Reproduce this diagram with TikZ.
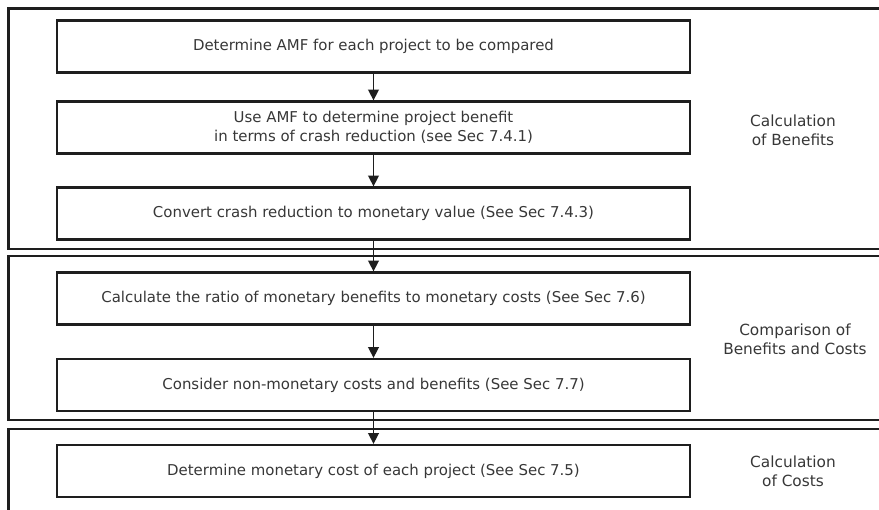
\documentclass[tikz,border=0pt]{standalone}
\usepackage{fontspec}
\setmainfont{DejaVu Sans}
\usetikzlibrary{arrows.meta}

\definecolor{ink}{RGB}{30,30,30}
\definecolor{txt}{RGB}{55,55,55}

\tikzset{
  stepbox/.style={draw=ink, line width=1.7pt, minimum width=474.75pt, minimum height=39pt,
    inner sep=0.75pt, align=center, font=\fontsize{11.2}{14}\selectfont, text=txt},
  stagelabel/.style={inner sep=0.75pt, align=center, font=\fontsize{11.5}{14}\selectfont, text=txt},
  frame/.style={draw=ink, line width=1.7pt},
  flow/.style={draw=ink, line width=1.1pt, -{Triangle[length=8pt,width=8pt]}}
}

\begin{document}
\begin{tikzpicture}[x=0.75pt,y=0.75pt,yscale=-1,xscale=1]
\useasboundingbox (0,0) rectangle (879,510);
\clip (0,0) rectangle (879,510);

%Stage frames
\draw [frame] (8.5,8.5) rectangle (960,249) ;
\draw [frame] (8.5,256) rectangle (960,420) ;
\draw [frame] (8.5,429) rectangle (960,560) ;

% Step boxes
\node [stepbox] (amf) at (373.5,46.5) {Determine AMF for each project to be compared};
\node [stepbox] (benefit) at (373.5,127.5) {Use AMF to determine project benefit\\in terms of crash reduction (see Sec 7.4.1)};
\node [stepbox] (money) at (373.5,213.5) {Convert crash reduction to monetary value (See Sec 7.4.3)};
\node [stepbox] (ratio) at (373.5,298.5) {Calculate the ratio of monetary benefits to monetary costs (See Sec 7.6)};
\node [stepbox] (nonmoney) at (373.5,385) {Consider non-monetary costs and benefits (See Sec 7.7)};
\node [stepbox] (cost) at (373.5,471) {Determine monetary cost of each project (See Sec 7.5)};

% Stage labels
\node [stagelabel] (lbenefits) at (793,130) {Calculation\\of Benefits};
\node [stagelabel] (lcompare) at (795,339) {Comparison of\\Benefits and Costs};
\node [stagelabel] (lcosts) at (793,471) {Calculation\\of Costs};

% Arrows
\draw [flow] (amf) -- (benefit);
\draw [flow] (benefit) -- (money);
\draw [flow] (money) -- (ratio);
\draw [flow] (ratio) -- (nonmoney);
\draw [flow] (nonmoney) -- (cost);

\end{tikzpicture}
\end{document}
